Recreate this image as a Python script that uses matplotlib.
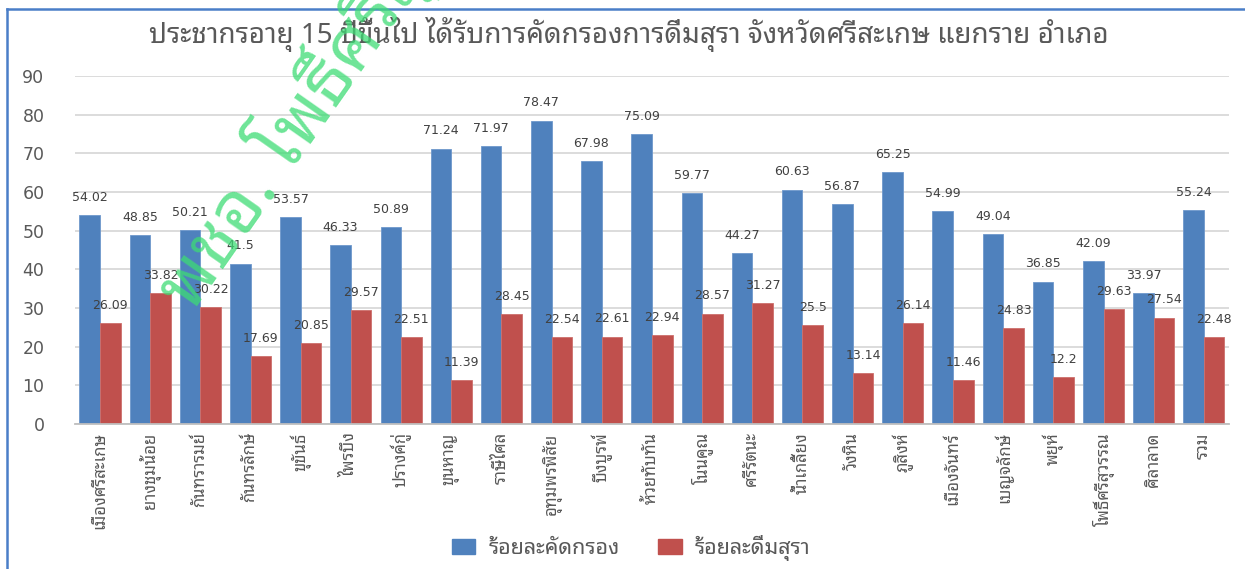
import numpy as np
import matplotlib
matplotlib.use("Agg")
import matplotlib.pyplot as plt
from matplotlib.lines import Line2D

thai = ['Noto Sans Thai Looped', 'Sarabun', 'Loma', 'DejaVu Sans']
plt.rcParams['font.family'] = ['DejaVu Sans'] + thai[:-1]

districts = ['เมืองศรีสะเกษ', 'ยางชุมน้อย', 'กันทรารมย์', 'กันทรลักษ์', 'ขุขันธ์',
             'ไพรบึง', 'ปรางค์กู่', 'ขุนหาญ', 'ราษีไศล', 'อุทุมพรพิสัย', 'บึงบูรพ์',
             'ห้วยทับทัน', 'โนนคูณ', 'ศรีรัตนะ', 'น้ำเกลี้ยง', 'วังหิน', 'ภูสิงห์',
             'เมืองจันทร์', 'เบญจลักษ์', 'พยุห์', 'โพธิ์ศรีสุวรรณ', 'ศิลาลาด', 'รวม']
screened = [54.02, 48.85, 50.21, 41.5, 53.57, 46.33, 50.89, 71.24, 71.97, 78.47, 67.98,
            75.09, 59.77, 44.27, 60.63, 56.87, 65.25, 54.99, 49.04, 36.85, 42.09, 33.97, 55.24]
drinking = [26.09, 33.82, 30.22, 17.69, 20.85, 29.57, 22.51, 11.39, 28.45, 22.54, 22.61,
            22.94, 28.57, 31.27, 25.5, 13.14, 26.14, 11.46, 24.83, 12.2, 29.63, 27.54, 22.48]
series_names = ['ร้อยละคัดกรอง', 'ร้อยละดื่มสุรา']

blue = '#4F81BD'
red = '#C0504D'
grey = '#595959'

fig = plt.figure(figsize=(12.45, 5.69), dpi=100)
ax = fig.add_axes([0.0602, 0.2548, 0.9269, 0.6116])

x = np.arange(len(districts))
w = 0.41
b1 = ax.bar(x - w / 2, screened, w, color=blue, edgecolor='#6E98CC', linewidth=0.6, zorder=2)
b2 = ax.bar(x + w / 2, drinking, w, color=red, edgecolor='#CD6F6C', linewidth=0.6, zorder=2)

for bars, vals in ((b1, screened), (b2, drinking)):
    for r, v in zip(bars, vals):
        ax.annotate(f'{v:g}', (r.get_x() + r.get_width() / 2, v), xytext=(0, 8),
                    textcoords='offset points', ha='center', va='bottom',
                    fontsize=9, color='#404040', zorder=3)

ax.set_xlim(-0.5, len(districts) - 0.5)
ax.set_ylim(0, 90)
ax.set_yticks(range(0, 91, 10))
ax.yaxis.grid(True, color='#D9D9D9', linewidth=1.3, zorder=0)
ax.set_axisbelow(True)
for s in ('left', 'right', 'top'):
    ax.spines[s].set_visible(False)
ax.spines['bottom'].set_color('#BFBFBF')
ax.spines['bottom'].set_linewidth(1.3)
ax.tick_params(axis='y', length=0, labelsize=12.5, labelcolor=grey, pad=22)
ax.tick_params(axis='x', length=0, pad=6)
ax.set_xticks(x)
ax.set_xticklabels(districts, rotation=90, fontsize=12, color=grey, family=thai)

fig.text(0.505, 0.94, 'ประชากรอายุ 15 ปีขึ้นไป ได้รับการคัดกรองการดื่มสุรา จังหวัดศรีสะเกษ แยกราย อำเภอ',
         ha='center', va='center', fontsize=20, color=grey, family=thai)

handles = [plt.Rectangle((0, 0), 1, 1, color=blue), plt.Rectangle((0, 0), 1, 1, color=red)]
fig.legend(handles, series_names, loc='center', bbox_to_anchor=(0.507, 0.037), ncol=2,
           frameon=False, prop={'family': thai, 'size': 15.5},
           labelcolor=grey, handlelength=1.1, handleheight=0.7, columnspacing=1.8,
           handletextpad=0.6)

# chart frame (top and left edges visible)
fig.add_artist(Line2D([7 / 1245, 7 / 1245], [0, 1 - 8.5 / 569], color='#4A7EC8', lw=1.8))
fig.add_artist(Line2D([7 / 1245, 1], [1 - 8.5 / 569, 1 - 8.5 / 569], color='#4A7EC8', lw=1.8))

# watermark
fig.text(0.14, 0.47, 'พชอ. โพธิ์ศรีสุวรรณ', rotation=55, fontsize=52, fontweight='bold',
         color='#3DDC74', alpha=0.75, ha='left', va='center', rotation_mode='anchor',
         family=thai, zorder=10)

fig.savefig('out.png', dpi=100)
